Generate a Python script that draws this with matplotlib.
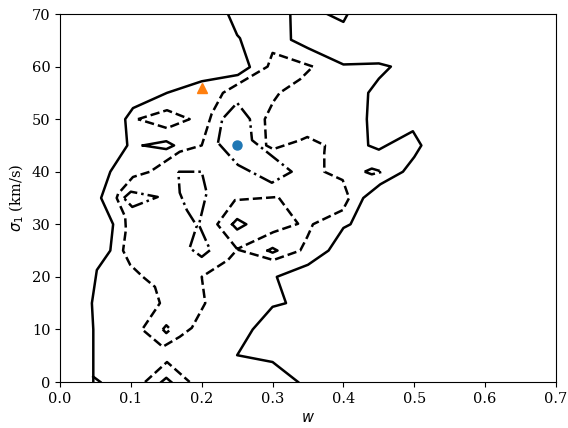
import matplotlib.pyplot as plt

plt.rcParams['font.family'] = 'serif'
plt.rcParams['font.size'] = 10.5

# contour paths as (w, sigma_1) vertices
solid_left = [(0.237, 70), (0.25, 66.0), (0.254, 65.4), (0.268, 59.9), (0.251, 58.4),
              (0.2, 57.2), (0.151, 55), (0.103, 52.1), (0.092, 50), (0.095, 45),
              (0.071, 40), (0.058, 35), (0.075, 30), (0.071, 25), (0.052, 21.3),
              (0.045, 15), (0.047, 10), (0.047, 5), (0.047, 0)]
solid_left_foot = [(0.047, 1.0), (0.057, 0)]
solid_top_notch = [(0.377, 70), (0.4, 68.5), (0.406, 70)]
solid_right = [(0.325, 70), (0.326, 65.1), (0.35, 63.5), (0.4, 60.4), (0.45, 60.6),
               (0.467, 60), (0.45, 57.7), (0.435, 55), (0.433, 50), (0.435, 45),
               (0.45, 44.2), (0.498, 47.7), (0.51, 45), (0.5, 42.8), (0.484, 40),
               (0.452, 37.6), (0.428, 35), (0.41, 30), (0.4, 29.3), (0.379, 25),
               (0.35, 22.3), (0.306, 20), (0.319, 15), (0.3, 14.3), (0.272, 10),
               (0.25, 5.1), (0.3, 3.8), (0.336, 0)]
solid_isle_a = [(0.117, 45), (0.15, 45.8), (0.161, 45), (0.15, 44.3), (0.117, 45)]
solid_isle_b = [(0.243, 30), (0.25, 31), (0.263, 30), (0.25, 29), (0.243, 30)]
solid_isle_c = [(0.293, 25), (0.3, 25.5), (0.307, 25), (0.3, 24.6), (0.293, 25)]
solid_isle_d = [(0.143, 0), (0.15, 0.8), (0.157, 0)]

dashed_main = [(0.357, 60), (0.3, 62.6), (0.293, 60), (0.23, 55), (0.214, 51),
               (0.2, 45), (0.169, 43.8), (0.127, 40), (0.103, 39), (0.082, 35.8),
               (0.08, 35), (0.092, 31.4), (0.093, 29), (0.089, 25), (0.099, 22.3),
               (0.117, 20), (0.134, 18.1), (0.141, 15), (0.116, 10), (0.145, 6.7),
               (0.169, 8.6), (0.186, 10.3), (0.205, 15), (0.2, 20), (0.237, 23.2),
               (0.25, 25.2), (0.301, 23.2), (0.339, 25), (0.349, 27.6), (0.357, 30),
               (0.399, 32.7), (0.408, 35), (0.399, 38.4), (0.373, 40), (0.373, 43.6),
               (0.374, 45), (0.349, 46.6), (0.339, 46), (0.301, 44.3), (0.291, 45),
               (0.289, 50), (0.301, 53.3), (0.31, 55), (0.339, 57.6), (0.357, 60)]
dashed_pocket = [(0.25, 25.3), (0.222, 30), (0.247, 34.6), (0.308, 35.2), (0.336, 30.1),
                 (0.301, 28.5), (0.25, 25.3)]
dashed_diamond = [(0.11, 50), (0.151, 51.7), (0.183, 50), (0.151, 48.3), (0.11, 50)]
dashed_foot = [(0.12, 0), (0.151, 3.8), (0.183, 0)]
dashed_dot = [(0.145, 10), (0.15, 10.8), (0.156, 10), (0.15, 9.3), (0.145, 10)]

dashdot_core = [(0.223, 45.5), (0.229, 50), (0.25, 53.1), (0.268, 50), (0.271, 46),
                (0.327, 40), (0.299, 37.9), (0.251, 41.3), (0.223, 45.5)]
dashdot_left = [(0.09, 35), (0.1, 36.2), (0.138, 35.2), (0.102, 33.3), (0.09, 35)]
dashdot_waist = [(0.167, 40), (0.2, 40), (0.207, 36), (0.196, 29.9), (0.212, 25.1),
                 (0.2, 23.8), (0.183, 25.5), (0.193, 29.7), (0.179, 32.7),
                 (0.169, 36), (0.167, 40)]
dashdot_right = [(0.43, 40), (0.44, 40.6), (0.455, 40), (0.44, 39.5), (0.43, 40)]

best_fit = (0.25, 45)
alt_fit = (0.2, 56)

fig, ax = plt.subplots(figsize=(5.68, 4.28), dpi=100)

styles = [
    ('-', [solid_left, solid_left_foot, solid_top_notch, solid_right,
           solid_isle_a, solid_isle_b, solid_isle_c, solid_isle_d]),
    ('--', [dashed_main, dashed_pocket, dashed_diamond, dashed_foot, dashed_dot]),
    ('-.', [dashdot_core, dashdot_left, dashdot_waist, dashdot_right]),
]
for ls, paths in styles:
    for path in paths:
        w, s = zip(*path)
        ax.plot(w, s, color='k', ls=ls, lw=1.8)

ax.plot(*best_fit, 'o', color='C0', ms=6.5)
ax.plot(*alt_fit, '^', color='C1', ms=6.5)

ax.set_xlim(0, 0.7)
ax.set_ylim(0, 70)
ax.set_xlabel('$w$')
ax.set_ylabel(r'$\sigma_1$ (km/s)')

plt.subplots_adjust(left=60 / 568, right=556 / 568, bottom=46 / 428, top=1 - 14 / 428)
plt.savefig('out.png', dpi=100)
